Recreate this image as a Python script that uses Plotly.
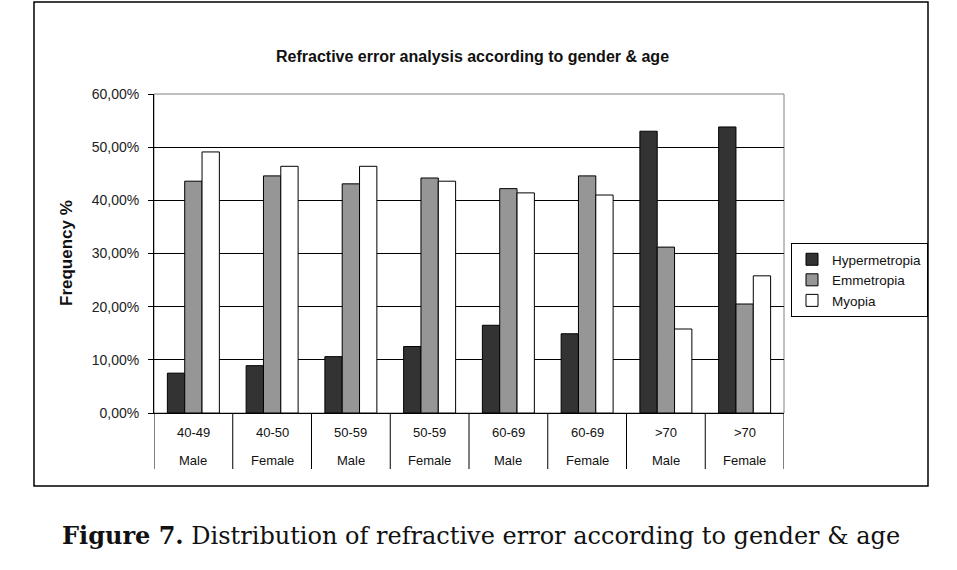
import plotly.graph_objects as go

ages = ["40-49", "40-50", "50-59", "50-59", "60-69", "60-69", ">70", ">70"]
genders = ["Male", "Female", "Male", "Female", "Male", "Female", "Male", "Female"]
hypermetropia = [7.5, 8.9, 10.6, 12.5, 16.5, 14.9, 53.0, 53.8]
emmetropia = [43.6, 44.6, 43.1, 44.2, 42.2, 44.6, 31.2, 20.5]
myopia = [49.1, 46.4, 46.4, 43.6, 41.4, 41.0, 15.8, 25.8]
series_names = ["Hypermetropia", "Emmetropia", "Myopia"]
series_colors = ["#333333", "#969696", "#ffffff"]
tick_vals = [0, 10, 20, 30, 40, 50, 60]
tick_text = ["0,00%", "10,00%", "20,00%", "30,00%", "40,00%", "50,00%", "60,00%"]

W, H = 957, 570
L, R, T, B = 154, 784, 94, 413
pw, ph = R - L, B - T

def px(xp):
    return (xp - L) / pw

def py(yp):
    return (B - yp) / ph

xs = list(range(len(ages)))
fig = go.Figure()
for name, vals, col in zip(series_names, [hypermetropia, emmetropia, myopia], series_colors):
    fig.add_trace(go.Bar(x=xs, y=vals, name=name, marker=dict(color=col, line=dict(color="black", width=1))))

font = "Liberation Sans, Arial, sans-serif"
fig.update_layout(
    width=W, height=H,
    margin=dict(l=L, r=W - R, t=T, b=H - B),
    paper_bgcolor="white", plot_bgcolor="white",
    barmode="group", bargap=0.34, bargroupgap=0,
    showlegend=True,
    legend=dict(x=px(791), y=py(243), xanchor="left", yanchor="top",
                bordercolor="black", borderwidth=1, bgcolor="white",
                font=dict(family=font, size=13.5, color="#111"),
                tracegroupgap=0),
    xaxis=dict(range=[-0.5, len(ages) - 0.5], showticklabels=False, showgrid=False,
               zeroline=False, showline=True, linecolor="black", linewidth=1, ticks=""),
    yaxis=dict(range=[0, 60], tickvals=tick_vals, ticktext=tick_text, showgrid=True,
               gridcolor="black", gridwidth=1, zeroline=False, showline=True,
               linecolor="black", linewidth=1, ticks="outside", ticklen=5,
               ticklabelstandoff=6,
               tickcolor="black", tickfont=dict(family=font, size=14, color="#222")),
    font=dict(family=font),
)

shapes = []
# plot area border (gray top/right)
shapes.append(dict(type="rect", xref="paper", yref="paper", x0=0, x1=1, y0=0, y1=1,
                   line=dict(color="#808080", width=1), layer="below"))
# outer frame
shapes.append(dict(type="rect", xref="paper", yref="paper", x0=px(34), x1=px(928),
                   y0=py(486), y1=py(2), line=dict(color="black", width=1.5)))
# category dividers in label area
for i in range(len(ages) + 1):
    shapes.append(dict(type="line", xref="x", yref="paper", x0=i - 0.5, x1=i - 0.5,
                       y0=0, y1=py(469), line=dict(color="black", width=1)))
fig.update_layout(shapes=shapes)

def annot(**kw):
    kw.setdefault("xanchor", "center")
    kw.setdefault("yanchor", "middle")
    kw.setdefault("showarrow", False)
    return kw

ann = []
for i, (a, g) in enumerate(zip(ages, genders)):
    ann.append(annot(x=i, y=py(432), xref="x", yref="paper", text=a,
                     font=dict(family=font, size=13, color="#111")))
    ann.append(annot(x=i, y=py(460), xref="x", yref="paper", text=g,
                     font=dict(family=font, size=13, color="#111")))
ann.append(annot(x=px(472), y=py(57), xref="paper", yref="paper",
                 text="<b>Refractive error analysis according to gender &amp; age</b>",
                 font=dict(family=font, size=16, color="#111")))
ann.append(annot(x=px(66), y=py(253), xref="paper", yref="paper",
                 textangle=-90, text="<b>Frequency %</b>",
                 font=dict(family=font, size=17, color="#111")))
ann.append(annot(x=px(481), y=py(535), xref="paper", yref="paper",
                 text="<b>Figure 7.</b> Distribution of refractive error according to gender &amp; age",
                 font=dict(family="DejaVu Serif, Liberation Serif, serif", size=24, color="#111")))
fig.update_layout(annotations=ann)

fig.write_html("out.html")
